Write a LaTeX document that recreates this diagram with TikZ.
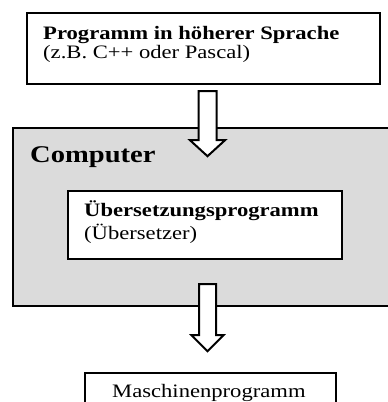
\documentclass[tikz,border=0pt]{standalone}
\usepackage{fontspec}
\setmainfont{Liberation Serif}[FakeStretch=1.19]
\usetikzlibrary{calc}
\definecolor{boxgray}{RGB}{219,219,219}
\tikzset{
  box/.style={draw=black, line width=2.4pt, fill=white, inner sep=0pt},
  graybox/.style={draw=black, line width=2.4pt, fill=boxgray, inner sep=0pt},
  txt/.style={anchor=base west, inner sep=0pt, font=\fontsize{19}{23}\selectfont},
  bigtxt/.style={anchor=base west, inner sep=0pt, font=\fontsize{24}{28}\selectfont\bfseries},
  blockarrow/.style={draw=black, line width=2pt, fill=white, line join=miter}
}
\begin{document}
\begin{tikzpicture}[x=1pt,y=-1pt]
\useasboundingbox (0,0) rectangle (388,402);
\clip (0,0) rectangle (388,402);
\fill[white] (0,0) rectangle (388,402);
% boxes
\node[box, minimum width=353pt, minimum height=71pt] (src) at (203.5,48.5) {};
\node[graybox, minimum width=387pt, minimum height=178pt] (comp) at (206.5,217) {};
\node[box, minimum width=274pt, minimum height=68pt] (trans) at (205,225) {};
\node[box, minimum width=251pt, minimum height=47pt] (mach) at (210.5,396.5) {};
% texts
\node[txt, font=\fontsize{19}{23}\selectfont\bfseries] (t1) at (43,39) {Programm in höherer Sprache};
\node[txt] (t2) at (43,58) {(z.B. C++ oder Pascal)};
\node[bigtxt] (t3) at (30,162) {Computer};
\node[txt, font=\fontsize{19}{23}\selectfont\bfseries] (t4) at (84,216) {Übersetzungsprogramm};
\node[txt] (t5) at (84,239) {(Übersetzer)};
\node[txt] (t6) at (112,397) {Maschinenprogramm};
% block arrows
\coordinate (a1) at ($(src.south)+(4,6)$);
\draw[blockarrow] ($(a1)+(-9,0)$) -- ($(a1)+(9,0)$) -- ($(a1)+(9,49)$) -- ($(a1)+(17.5,49)$)
  -- ($(a1)+(0,65)$) -- ($(a1)+(-17.5,49)$) -- ($(a1)+(-9,49)$) -- cycle;
\coordinate (a2) at ($(comp.south)+(1,-23)$);
\draw[blockarrow] ($(a2)+(-8.5,0)$) -- ($(a2)+(8.5,0)$) -- ($(a2)+(8.5,51)$) -- ($(a2)+(16,51)$)
  -- ($(a2)+(0,67)$) -- ($(a2)+(-16,51)$) -- ($(a2)+(-8.5,51)$) -- cycle;
\end{tikzpicture}
\end{document}
